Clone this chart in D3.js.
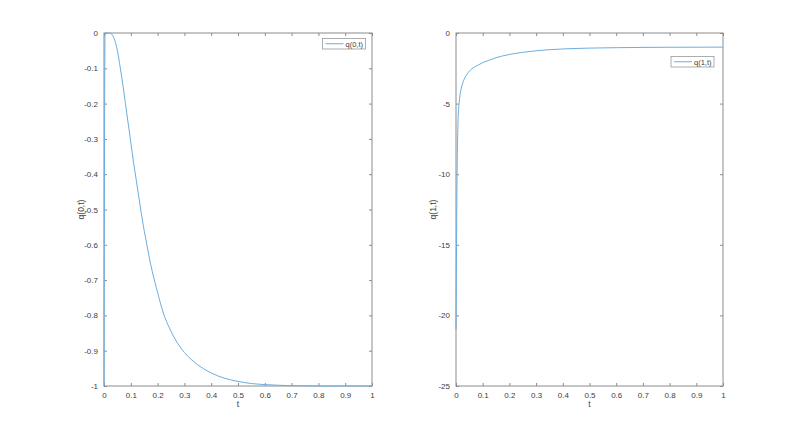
<!DOCTYPE html>
<html><head><meta charset="utf-8">
<script src="https://cdn.jsdelivr.net/npm/d3@7"></script>
<style>body{margin:0;background:#fff}svg{display:block}text{font-family:"Liberation Sans",Arial,sans-serif}</style>
</head><body>
<script>
const t0 = [0,0.004,0.01,0.02,0.03,0.04,0.05,0.06,0.07,0.08,0.09,0.1,0.11,0.12,0.13,0.14,0.15,0.16,0.17,0.18,0.2,0.22,0.25,0.28,0.3,0.35,0.4,0.45,0.5,0.55,0.6,0.7,0.8,0.9,1];
const q0 = [-1,0,0,0,-0.005,-0.02,-0.05,-0.095,-0.145,-0.2,-0.255,-0.31,-0.365,-0.415,-0.465,-0.515,-0.56,-0.6,-0.64,-0.675,-0.735,-0.79,-0.845,-0.885,-0.905,-0.94,-0.963,-0.978,-0.987,-0.993,-0.996,-0.999,-1,-1,-1];
const t1 = [0,0.002,0.004,0.006,0.008,0.01,0.012,0.015,0.02,0.03,0.04,0.05,0.06,0.08,0.1,0.125,0.15,0.2,0.25,0.3,0.35,0.4,0.5,0.6,0.7,0.8,0.9,1];
const q1 = [-21,-15,-10,-7.5,-6,-5.3,-4.9,-4.4,-3.9,-3.3,-2.95,-2.7,-2.52,-2.3,-2.1,-1.92,-1.75,-1.52,-1.37,-1.26,-1.18,-1.13,-1.07,-1.04,-1.02,-1.01,-1.005,-1];
const xTicks = [0,0.1,0.2,0.3,0.4,0.5,0.6,0.7,0.8,0.9,1];
const yTicks0 = [0,-0.1,-0.2,-0.3,-0.4,-0.5,-0.6,-0.7,-0.8,-0.9,-1];
const yTicks1 = [0,-5,-10,-15,-20,-25];

const W=800,H=435;
const svg=d3.select("body").append("svg").attr("width",W).attr("height",H);
const axisCol="#8c8c8c", textCol="#404040", lineCol="#6aaee0";

function panel(x0,x1,y0,y1,yDom,yT,ts,qs,ylab,leg,legBox){
  const x=d3.scaleLinear().domain([0,1]).range([x0,x1]);
  const y=d3.scaleLinear().domain(yDom).range([y1,y0]);
  const g=svg.append("g");
  const fmt=d=>String(d);
  const mk=(ax,tr)=>{const a=g.append("g").attr("transform",tr).call(ax);
    a.selectAll(".tick line").attr("stroke",axisCol);
    a.selectAll("text").attr("fill",textCol).attr("font-size",8);
    return a;};
  mk(d3.axisBottom(x).tickValues(xTicks).tickSize(-3).tickPadding(6).tickFormat(fmt),`translate(0,${y1})`);
  mk(d3.axisTop(x).tickValues(xTicks).tickSize(-3).tickFormat(""),`translate(0,${y0})`);
  mk(d3.axisLeft(y).tickValues(yT).tickSize(-3).tickPadding(6).tickFormat(fmt),`translate(${x0},0)`);
  mk(d3.axisRight(y).tickValues(yT).tickSize(-3).tickFormat(""),`translate(${x1},0)`);
  g.selectAll(".domain").remove();
  g.append("rect").attr("x",x0).attr("y",y0).attr("width",x1-x0).attr("height",y1-y0)
    .attr("fill","none").attr("stroke",axisCol);
  const data=ts.map((t,i)=>[t,qs[i]]);
  g.append("path").datum(data).attr("fill","none").attr("stroke",lineCol).attr("stroke-width",1)
    .attr("d",d3.line().x(d=>x(d[0])).y(d=>y(d[1])).curve(d3.curveMonotoneX));
  g.append("text").attr("x",(x0+x1)/2).attr("y",y1+21).attr("text-anchor","middle")
    .attr("font-size",8.5).attr("fill",textCol).text("t");
  g.append("text").attr("transform",`translate(${x0-20},${(y0+y1)/2}) rotate(-90)`)
    .attr("text-anchor","middle").attr("font-size",8.5).attr("fill",textCol).text(ylab);
  const [bx,by,bw,bh]=legBox;
  g.append("rect").attr("x",bx).attr("y",by).attr("width",bw).attr("height",bh)
    .attr("fill","#fff").attr("stroke","#999").attr("stroke-width",0.8);
  g.append("line").attr("x1",bx+3).attr("x2",bx+21).attr("y1",by+bh/2).attr("y2",by+bh/2)
    .attr("stroke",lineCol);
  g.append("text").attr("x",bx+23).attr("y",by+bh/2+2.8).attr("font-size",7.5).attr("fill",textCol).text(leg);
}
panel(104,372,33,386,[-1,0],yTicks0,t0,q0,"q(0,t)","q(0,t)",[322.5,38.5,43,10.5]);
panel(456,723,33,386,[-25,0],yTicks1,t1,q1,"q(1,t)","q(1,t)",[671,56.5,43,10.5]);
</script>
</body></html>
